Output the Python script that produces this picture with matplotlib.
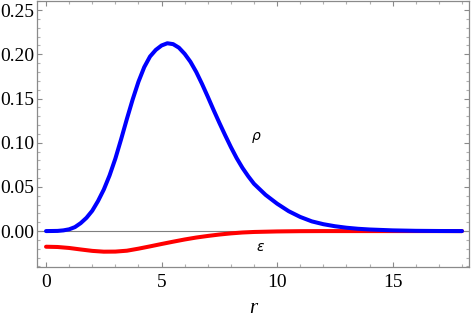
import numpy as np
import matplotlib as mpl
mpl.use("Agg")
import matplotlib.pyplot as plt
from matplotlib.ticker import MultipleLocator

plt.rcParams['font.family'] = ['Liberation Serif', 'DejaVu Serif']

# values
r_rho = [0, 0.5, 0.75, 1.0, 1.25, 1.5, 1.75, 2.0, 2.25, 2.5, 2.75, 3.0, 3.25,
         3.5, 3.75, 4.0, 4.25, 4.5, 4.75, 5.0, 5.25, 5.5, 5.75, 6.0, 6.25,
         6.5, 6.75, 7.0, 7.25, 7.5, 7.75, 8.0, 8.25, 8.5, 8.75, 9.0, 9.5,
         10.0, 10.5, 11.0, 11.5, 12.0, 12.5, 13.0, 13.5, 14.0, 15.0, 16.0,
         17.0, 18.0]
rho = [0.0, 0.0002, 0.0008, 0.002, 0.0045, 0.009, 0.015, 0.023, 0.034, 0.047,
       0.063, 0.082, 0.104, 0.127, 0.149, 0.169, 0.1855, 0.1975, 0.205,
       0.2100, 0.2125, 0.2115, 0.2075, 0.2005, 0.1915, 0.180, 0.1665, 0.152,
       0.137, 0.1225, 0.1085, 0.095, 0.0825, 0.0715, 0.062, 0.0535, 0.041,
       0.031, 0.0225, 0.016, 0.011, 0.0078, 0.0055, 0.0038, 0.0026, 0.0018,
       0.0008, 0.0003, 0.0001, 0.0]

r_eps = [0, 0.5, 1.0, 1.5, 2.0, 2.5, 3.0, 3.5, 4.0, 4.5, 5.0, 5.5, 6.0, 6.5,
         7.0, 7.5, 8.0, 8.5, 9.0, 10.0, 11.0, 12.0, 18.0]
eps = [-0.0177, -0.0180, -0.0191, -0.0208, -0.0224, -0.0233, -0.0232,
       -0.0222, -0.0199, -0.0173, -0.0146, -0.0120, -0.0095, -0.0073,
       -0.0055, -0.0039, -0.0026, -0.0016, -0.0010, -0.0004, -0.0001, 0.0,
       0.0]

x_ticks = [0, 5, 10, 15]
y_ticks = [0.00, 0.05, 0.10, 0.15, 0.20, 0.25]

frame_col = "#8a8a8a"
serif = "Liberation Serif"

fig = plt.figure(figsize=(4.71, 3.30), dpi=100)
ax = fig.add_axes([0.0786, 0.191, 0.917, 0.807])

ax.axhline(0, color="#7f7f7f", lw=0.8, zorder=1)
ax.plot(r_eps, eps, color=(1, 0, 0), lw=2.9, solid_capstyle="round",
        solid_joinstyle="round", zorder=2)
ax.plot(r_rho, rho, color=(0, 0, 1), lw=2.9, solid_capstyle="round",
        solid_joinstyle="round", zorder=3)

ax.set_xlim(-0.39, 18.3)
ax.set_ylim(-0.0406, 0.2607)

ax.set_xticks(x_ticks)
ax.set_xticklabels([str(v) for v in x_ticks], family=serif, fontsize=14)
ax.set_yticks(y_ticks)
ax.set_yticklabels([f"{v:.2f}" for v in y_ticks], family=serif, fontsize=14)
ax.xaxis.set_minor_locator(MultipleLocator(1))
ax.yaxis.set_minor_locator(MultipleLocator(0.01))

for s in ax.spines.values():
    s.set_color(frame_col)
    s.set_linewidth(0.9)

ax.tick_params(which="both", direction="in", top=True, right=True,
               color=frame_col, width=0.8)
ax.tick_params(which="major", length=3.5, pad=5)
ax.tick_params(which="minor", length=2.0, color="#b0b0b0")
ax.tick_params(axis="y", pad=2)

ax.set_xlabel("r", fontsize=15, style="italic", family=serif, labelpad=6)

ax.text(9.1, 0.106, r"$\rho$", fontsize=10, ha="center", va="center",
        family="DejaVu Sans")
ax.text(9.3, -0.018, r"$\epsilon$", fontsize=10, ha="center", va="center",
        family="DejaVu Sans")

fig.savefig("out.png", dpi=100)
